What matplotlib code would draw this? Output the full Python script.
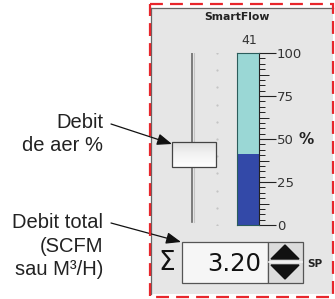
import numpy as np
import matplotlib
matplotlib.use("Agg")
import matplotlib.pyplot as plt
from matplotlib.patches import Rectangle, Polygon

# values shown on the panel
title = "SmartFlow"
flow_pct = 41            # gauge reading
slider_pct = 41          # slider handle position
scale_ticks = [0, 25, 50, 75, 100]
scale_labels = ["0", "25", "50", "75", "100"]
slider_marks = [0, 10, 20, 30, 40, 50, 60, 70, 80, 90, 100]
total_flow = 3.20
label_air = "Debit\nde aer %"
label_total = "Debit total\n(SCFM\nsau M³/H)"

W, H = 335, 299
fig = plt.figure(figsize=(W / 100, H / 100), dpi=100)
fig.patch.set_facecolor("white")


def fpos(x0, y0, x1, y1):
    return [x0 / W, 1 - y1 / H, (x1 - x0) / W, (y1 - y0) / H]


ax = fig.add_axes([0, 0, 1, 1])
ax.set_xlim(0, W)
ax.set_ylim(H, 0)
ax.axis("off")

# grey panel + red dashed frame
ax.add_patch(Rectangle((151, 8), 182, 286, facecolor="#e6e6e6", edgecolor="none"))
ax.plot([151, 151], [8, 294], color="#666666", lw=0.9)
ax.plot([151, 333], [8, 8], color="#666666", lw=0.9)
ax.add_patch(Rectangle((150, 4), 182.5, 293, fill=False, edgecolor="#e8262c",
                       lw=1.6, linestyle=(0, (5.8, 3.2)), zorder=5))

ax.text(237, 17, title, ha="center", va="center", fontsize=7.8, fontweight="bold",
        family="DejaVu Sans", color="#222222")
ax.text(249, 41, str(flow_pct), ha="center", va="center", fontsize=9,
        family="DejaVu Sans", color="#333333")
ax.text(306, 139, "%", ha="center", va="center", fontsize=11, fontweight="bold",
        family="DejaVu Sans", color="#222222")

# value box with spinner
ax.text(167, 263, "Σ", ha="center", va="center", fontsize=19, family="DejaVu Sans",
        color="#111111")
ax.add_patch(Rectangle((182, 242), 86, 41, facecolor="#f6f6f6", edgecolor="#555555", lw=0.9))
ax.add_patch(Rectangle((268, 242), 35, 41, facecolor="#dcdcdc", edgecolor="#555555", lw=0.9))
ax.add_patch(Polygon([(271, 259), (299, 259), (285, 245)], closed=True, color="#111111"))
ax.add_patch(Polygon([(271, 265), (299, 265), (285, 279)], closed=True, color="#111111"))
ax.plot([269, 302], [262, 262], color="#f4f4f4", lw=1.2)
ax.text(261, 264, f"{total_flow:.2f}", ha="right", va="center", fontsize=17.5,
        family="DejaVu Sans", color="#111111")
ax.text(315, 264, "SP", ha="center", va="center", fontsize=7.5, fontweight="bold",
        family="DejaVu Sans", color="#222222")

# callouts on the left
ax.text(103, 134, label_air, ha="right", va="center", fontsize=14.5,
        family="Liberation Sans", color="#222222", linespacing=1.3)
ax.text(103, 246, label_total, ha="right", va="center", fontsize=14.5,
        family="Liberation Sans", color="#222222", linespacing=1.3)
arrow = dict(arrowstyle="-|>,head_length=0.9,head_width=0.35", color="#111111", lw=0.9,
             shrinkA=0, shrinkB=0)
ax.annotate("", xy=(172, 144), xytext=(111, 124), arrowprops=arrow)
ax.annotate("", xy=(181, 242), xytext=(111, 223), arrowprops=arrow)

# slider
sl = fig.add_axes(fpos(165, 53, 230, 225))
sl.set_xlim(165, 230)
sl.set_ylim(0, 100)
sl.axis("off")
sl.patch.set_alpha(0)
sl.plot([192.5, 192.5], [1.5, 100.5], color="#6a6a6a", lw=1.2)
sl.plot([194, 194], [1.5, 100.5], color="#c4c4c4", lw=0.8)
sl.scatter([217] * len(slider_marks), slider_marks, s=2.5, color="#c4c4c4", linewidths=0)
grad = np.linspace(1, 0, 20).reshape(-1, 1)
sl.imshow(grad, cmap="Greys_r", vmin=-4, vmax=1.05, aspect="auto",
          extent=(172, 216, slider_pct - 7, slider_pct + 7), origin="lower", zorder=3)
sl.add_patch(Rectangle((172, slider_pct - 7), 44, 14, fill=False, edgecolor="#444444",
                       lw=0.9, zorder=4))
sl.set_xlim(165, 230)
sl.set_ylim(0, 100)

# gauge
g = fig.add_axes(fpos(237, 53, 259, 225))
g.bar([0], [100], width=1, color="#9ad7d5", edgecolor="none")
g.bar([0], [flow_pct], width=1, color="#3349a8", edgecolor="none")
g.set_xlim(-0.5, 0.5)
g.set_ylim(0, 100)
g.set_xticks([])
g.yaxis.tick_right()
g.set_yticks(scale_ticks)
g.set_yticklabels(scale_labels)
g.set_yticks(np.arange(0, 100.1, 3.125), minor=True)
g.tick_params(axis="y", which="major", length=12.5, width=0.8, pad=0.3, labelsize=9.5,
              labelcolor="#333333", color="#222222")
g.tick_params(axis="y", which="minor", length=4.5, width=0.7, color="#222222")
for s in ["left", "top", "bottom"]:
    g.spines[s].set_color("#2c5d5c")
    g.spines[s].set_linewidth(0.8)
g.spines["right"].set_color("#222222")
g.spines["right"].set_linewidth(0.8)
for lab in g.get_yticklabels():
    lab.set_family("DejaVu Sans")

mid = g.secondary_yaxis("right")
mid.set_yticks([12.5, 37.5, 62.5, 87.5])
mid.set_yticklabels([])
mid.tick_params(length=7, width=0.7, color="#222222")
mid.spines["right"].set_visible(False)

fig.savefig("out.png", dpi=100)
